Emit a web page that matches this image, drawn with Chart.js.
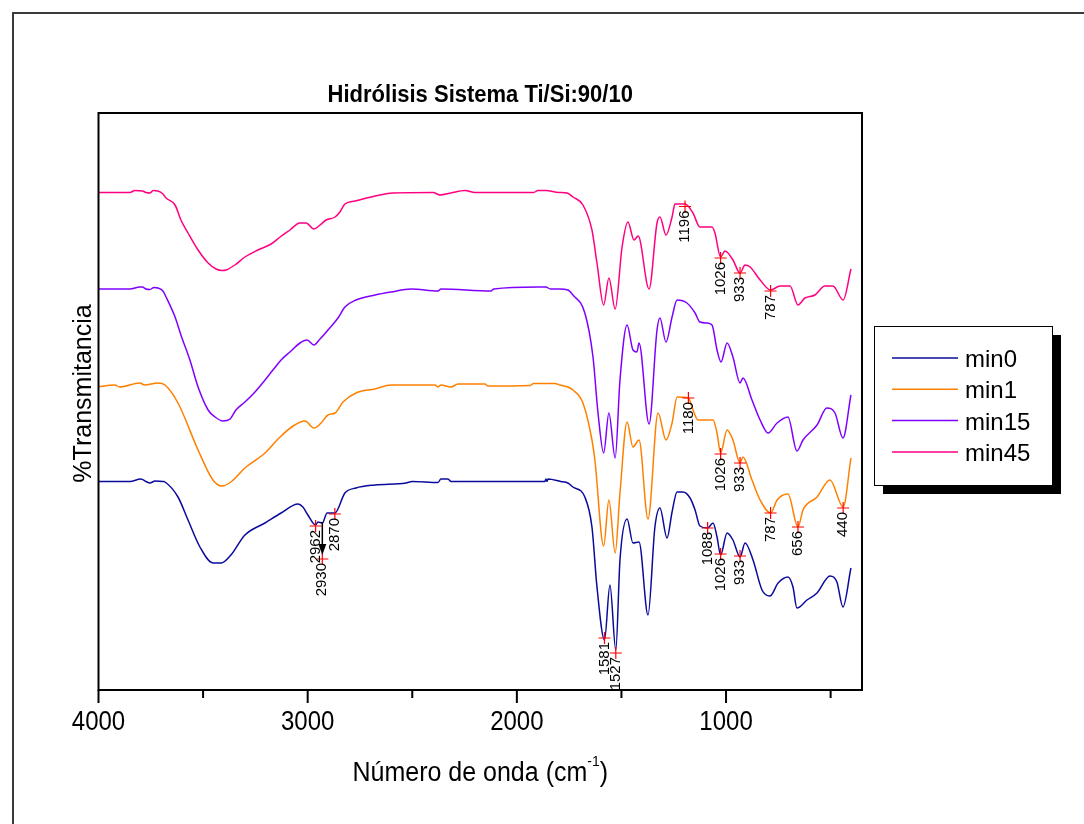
<!DOCTYPE html>
<html>
<head>
<meta charset="utf-8">
<script src="https://cdn.jsdelivr.net/npm/chart.js@4.4.0/dist/chart.umd.min.js"></script>
<style>
  html, body { margin: 0; padding: 0; background: #fff; }
</style>
</head>
<body>
<canvas id="ftir" width="1084" height="824"></canvas>
<script>
// series labels and colours
var seriesNames = ["min0", "min1", "min15", "min45"];
var seriesColors = ["#0a0a9c", "#ff8000", "#8000ff", "#ff0080"];

// wavenumbers (cm-1) and %T (arbitrary offset units)
var min0Wave = [4000,3850,3797,3773,3754,3730,3692,3682,3620,3572,3515,3453,3414,3367,3300,3204,3127,3046,3023,2999,2962,2951,2930,2907,2870,2822,2769,2678,2530,2500,2377,2363,2329,2315,1866,1861,1856,1851,1790,1756,1732,1675,1641,1617,1581,1555,1527,1507,1473,1445,1416,1373,1340,1316,1282,1258,1234,1206,1172,1148,1125,1088,1062,1043,1026,995,967,933,909,871,828,790,751,704,680,661,613,565,503,470,441,403];
var min0T = [41.5,41.5,42.0,41.5,41.2,41.6,41.5,41.4,38.4,33.8,28.4,25.2,25.2,26.8,30.8,33.2,35.2,37.0,36.4,34.8,32.8,33.4,33.2,35.2,35.2,39.2,40.2,40.8,41.2,41.5,41.3,42.0,42.0,41.5,41.5,42.0,41.5,42.0,41.5,41.2,40.4,38.4,32.4,20.4,9.8,20.8,7.8,25.8,34.0,29.2,29.4,14.8,32.4,36.2,30.2,35.4,39.4,39.4,38.2,35.8,32.6,32.2,33.2,30.4,26.8,31.2,29.8,26.4,29.2,25.8,19.8,18.6,21.2,22.4,20.4,16.2,17.8,19.2,22.6,21.4,16.4,24.2];

var min1Wave = [4000,3921,3900,3802,3780,3716,3682,3620,3524,3453,3410,3367,3300,3204,3132,3070,3013,2970,2936,2903,2869,2831,2769,2678,2602,2391,2377,2363,2315,2281,2153,2138,1937,1920,1818,1794,1756,1732,1684,1641,1627,1585,1560,1530,1507,1473,1445,1416,1373,1325,1287,1258,1234,1180,1158,1134,1062,1043,1026,995,967,933,919,876,837,787,756,704,656,632,565,503,440,403];
var min1T = [60.5,60.8,60.4,61.2,60.8,61.2,60.8,57.2,47.8,41.8,40.6,41.4,44.2,47.2,50.4,52.6,53.6,52.2,53.2,54.8,55.2,57.4,59.2,60.0,60.8,60.8,60.4,60.8,60.4,61.0,61.0,60.6,60.7,61.1,61.1,60.8,60.4,59.8,57.2,49.8,45.8,28.6,37.8,27.2,39.2,53.4,48.4,49.8,34.0,55.2,49.8,53.2,58.4,58.2,55.8,53.8,53.8,51.2,47.2,51.8,49.8,45.2,46.4,41.8,37.8,35.2,37.8,39.0,32.4,35.8,38.4,41.8,36.4,46.2];

var min15Wave = [4000,3850,3802,3790,3773,3754,3735,3716,3692,3677,3634,3606,3563,3524,3476,3443,3405,3371,3343,3300,3252,3204,3166,3127,3085,3037,3003,2970,2941,2903,2855,2822,2769,2678,2602,2506,2377,2363,2124,2110,1899,1861,1840,1794,1756,1732,1675,1636,1612,1585,1560,1530,1507,1473,1445,1426,1416,1368,1330,1316,1287,1258,1234,1187,1148,1125,1091,1067,1043,1024,995,967,933,919,876,837,799,756,704,661,632,565,518,479,441,403];
var min15T = [80.0,80.0,80.4,80.4,80.0,79.9,80.3,80.2,79.6,78.4,74.4,70.8,65.8,60.4,55.8,54.4,53.6,54.0,55.8,57.4,59.4,61.8,63.8,65.8,67.4,69.2,69.8,68.8,70.0,71.8,74.2,76.4,77.8,78.8,79.4,80.0,79.6,80.0,79.6,80.0,80.4,80.4,80.0,80.0,79.8,78.8,75.2,66.4,55.2,47.2,55.2,46.2,61.8,72.8,67.8,67.4,69.2,53.0,71.8,74.2,69.4,74.4,77.8,77.2,75.2,73.4,73.2,72.8,67.8,65.4,69.2,66.4,61.2,62.2,57.8,53.8,51.2,53.2,54.4,47.6,49.8,52.8,56.2,55.2,50.2,58.8];

var min45Wave = [4000,3850,3826,3790,3773,3754,3739,3716,3692,3677,3634,3606,3572,3524,3476,3438,3410,3390,3348,3300,3238,3175,3132,3085,3037,3008,2970,2941,2912,2869,2846,2822,2774,2697,2592,2400,2368,2315,2248,2200,1920,1899,1861,1800,1760,1732,1684,1641,1617,1585,1560,1530,1497,1469,1440,1420,1368,1330,1316,1287,1258,1244,1196,1158,1125,1067,1053,1026,1005,967,933,909,885,837,787,742,694,656,623,575,527,489,440,403];
var min45T = [99.3,99.3,99.7,99.6,99.3,99.2,99.7,99.6,99.0,98.2,96.8,93.8,91.2,87.8,85.2,84.0,83.7,83.8,84.8,86.4,87.8,89.0,90.4,91.8,93.2,93.2,92.0,92.8,93.8,94.4,95.4,97.0,97.6,98.4,99.2,99.3,98.8,99.2,99.7,99.3,99.3,99.7,99.7,99.3,99.2,98.4,96.8,91.8,85.2,76.8,82.2,76.0,88.4,93.4,89.8,90.6,80.0,93.2,94.4,90.8,94.4,97.0,97.0,95.2,92.4,92.4,91.2,86.4,87.6,85.8,83.2,84.8,84.4,81.8,79.8,80.6,80.6,76.8,78.2,78.8,80.6,80.6,77.8,84.0];

// labelled peaks (red crosses)
var peaks0Wave = [2962, 2930, 2870, 1581, 1527, 1088, 1026, 933];
var peaks0T = [32.6, 26.0, 35.0, 10.2, 7.2, 32.2, 27.0, 26.6];
var peaks1Wave = [1180, 1026, 933, 787, 656, 440];
var peaks1T = [58.2, 47.0, 45.2, 35.2, 32.4, 36.2];
var peaks45Wave = [1196, 1026, 933, 787];
var peaks45T = [96.5, 86.2, 83.2, 79.6];

// arrow from the 2930 band down to its marker
var arrowWave = 2930;
var arrowFromT = 33.4;
var arrowToT = 26.8;

// x axis ticks
var majorTicks = [4000, 3000, 2000, 1000];
var minorTicks = [3500, 2500, 1500, 500];

function pts(w, t) {
  return w.map(function (v, i) { return { x: v, y: t[i] }; });
}

var FONT = '"Liberation Sans", Arial, sans-serif';

function stretchText(ctx, s, x, y, size, sy, align, bold) {
  ctx.save();
  ctx.font = (bold ? 'bold ' : '') + size + 'px ' + FONT;
  ctx.textAlign = align || 'center';
  ctx.textBaseline = 'alphabetic';
  ctx.translate(x, y);
  ctx.scale(1, sy);
  ctx.fillText(s, 0, 0);
  ctx.restore();
}

var decor = {
  id: 'decor',
  afterDraw: function (chart) {
    var ctx = chart.ctx, a = chart.chartArea;
    var xs = chart.scales.x, ys = chart.scales.y;
    ctx.save();
    ctx.fillStyle = '#000';

    // outer frame (clipped by the picture edge)
    ctx.strokeStyle = '#3a3a3a';
    ctx.lineWidth = 2;
    ctx.beginPath();
    ctx.moveTo(13, 824); ctx.lineTo(13, 13); ctx.lineTo(1084, 13);
    ctx.stroke();

    // plot box
    ctx.strokeStyle = '#000';
    ctx.lineWidth = 2;
    ctx.strokeRect(a.left, a.top, a.right - a.left, a.bottom - a.top);

    // ticks
    ctx.lineWidth = 2;
    majorTicks.forEach(function (v) {
      var px = xs.getPixelForValue(v);
      ctx.beginPath(); ctx.moveTo(px, a.bottom); ctx.lineTo(px, a.bottom + 13); ctx.stroke();
      stretchText(ctx, String(v), px, a.bottom + 40, 24, 1.15, 'center');
    });
    minorTicks.forEach(function (v) {
      var px = xs.getPixelForValue(v);
      ctx.beginPath(); ctx.moveTo(px, a.bottom); ctx.lineTo(px, a.bottom + 8); ctx.stroke();
    });

    // title
    stretchText(ctx, 'Hidrólisis Sistema Ti/Si:90/10', (a.left + a.right) / 2, 102, 22, 1.1, 'center', true);

    // x title with superscript
    ctx.font = '25px ' + FONT;
    var t1 = 'Número de onda (cm', t3 = ')';
    var w1 = ctx.measureText(t1).width, w3 = ctx.measureText(t3).width;
    ctx.font = '14px ' + FONT;
    var w2 = ctx.measureText('-1').width;
    var x0 = (a.left + a.right) / 2 - (w1 + w2 + w3) / 2;
    stretchText(ctx, t1, x0, 781, 25, 1.1, 'left');
    stretchText(ctx, '-1', x0 + w1, 766, 14, 1.1, 'left');
    stretchText(ctx, t3, x0 + w1 + w2, 781, 25, 1.1, 'left');

    // y title
    ctx.save();
    ctx.translate(91, (a.top + a.bottom) / 2 - 8);
    ctx.rotate(-Math.PI / 2);
    ctx.font = '25px ' + FONT;
    ctx.textAlign = 'center';
    ctx.fillText('%Transmitancia', 0, 0);
    ctx.restore();

    // peak labels (rotated, under each cross)
    ctx.font = '15px ' + FONT;
    ctx.fillStyle = '#000';
    [0, 1, 2].forEach(function (di) {
      var meta = chart.getDatasetMeta(di);
      var ds = chart.data.datasets[di];
      meta.data.forEach(function (el, j) {
        ctx.save();
        ctx.translate(el.x, el.y);
        ctx.rotate(-Math.PI / 2);
        ctx.textAlign = 'right';
        ctx.textBaseline = 'middle';
        ctx.fillText(String(ds.data[j].x), -4, 0);
        ctx.restore();
      });
    });

    // arrow 2930
    var ax = xs.getPixelForValue(arrowWave);
    var ay1 = ys.getPixelForValue(arrowFromT), ay2 = ys.getPixelForValue(arrowToT);
    ctx.strokeStyle = '#000';
    ctx.lineWidth = 1.5;
    ctx.beginPath(); ctx.moveTo(ax, ay1); ctx.lineTo(ax, ay2 - 9); ctx.stroke();
    ctx.beginPath();
    ctx.moveTo(ax - 4, ay2 - 11); ctx.lineTo(ax + 4, ay2 - 11); ctx.lineTo(ax, ay2); ctx.closePath();
    ctx.fill();

    // legend box with shadow
    var lx = 874, ly = 326, lw = 178, lh = 159;
    ctx.fillStyle = '#000';
    ctx.fillRect(lx + 9, ly + 9, lw, lh);
    ctx.fillStyle = '#fff';
    ctx.fillRect(lx, ly, lw, lh);
    ctx.strokeStyle = '#000';
    ctx.lineWidth = 1;
    ctx.strokeRect(lx + 0.5, ly + 0.5, lw, lh);
    seriesNames.forEach(function (name, i) {
      var yy = 358 + i * 31.3;
      ctx.strokeStyle = seriesColors[i];
      ctx.lineWidth = 1.5;
      ctx.beginPath(); ctx.moveTo(892, yy); ctx.lineTo(958, yy); ctx.stroke();
      ctx.fillStyle = '#000';
      ctx.font = '24px ' + FONT;
      ctx.textAlign = 'left';
      ctx.textBaseline = 'alphabetic';
      ctx.fillText(name, 965, yy + 9);
    });

    ctx.restore();
  }
};

var peakStyle = {
  type: 'scatter', showLine: false, pointStyle: 'cross', pointRadius: 6,
  borderColor: '#ff0000', backgroundColor: '#ff0000', pointBorderWidth: 1.2, order: 0
};

function peakSet(w, t) {
  return Object.assign({ data: pts(w, t) }, peakStyle);
}

function lineSet(i, w, t) {
  return {
    type: 'line', label: seriesNames[i], data: pts(w, t),
    borderColor: seriesColors[i], borderWidth: 1.5, pointRadius: 0,
    cubicInterpolationMode: 'monotone', fill: false, order: 1
  };
}

new Chart(document.getElementById('ftir').getContext('2d'), {
  type: 'line',
  data: {
    datasets: [
      peakSet(peaks0Wave, peaks0T),
      peakSet(peaks1Wave, peaks1T),
      peakSet(peaks45Wave, peaks45T),
      lineSet(0, min0Wave, min0T),
      lineSet(1, min1Wave, min1T),
      lineSet(2, min15Wave, min15T),
      lineSet(3, min45Wave, min45T)
    ]
  },
  options: {
    responsive: false,
    animation: false,
    devicePixelRatio: 1,
    layout: { padding: { left: 98.5, right: 222, top: 113, bottom: 134 } },
    plugins: { legend: { display: false }, tooltip: { enabled: false }, title: { display: false } },
    scales: {
      x: { type: 'linear', min: 350, max: 4000, reverse: true, display: false },
      y: { type: 'linear', min: -0.2, max: 115.2, display: false }
    }
  },
  plugins: [decor]
});
</script>
</body>
</html>
